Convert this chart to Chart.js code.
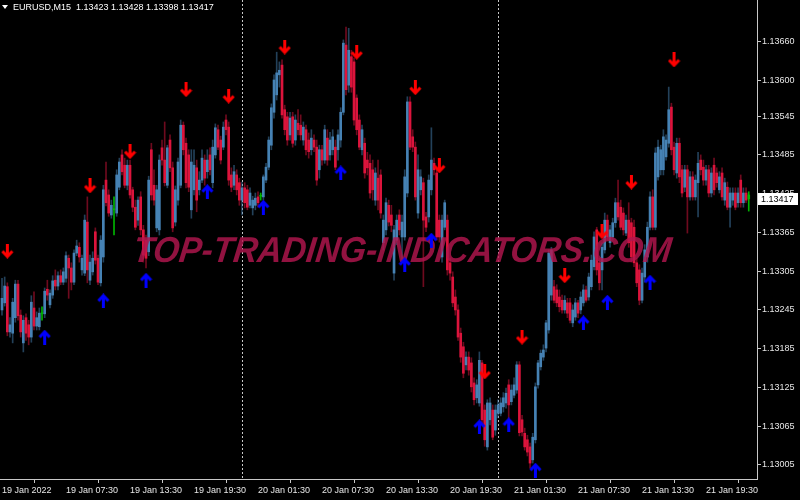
<!DOCTYPE html>
<html>
<head>
<meta charset="utf-8">
<script src="https://cdn.jsdelivr.net/npm/chart.js@4.4.1/dist/chart.umd.min.js"></script>
<style>
html,body{margin:0;padding:0;background:#000;}
#c{display:block;}
</style>
</head>
<body>
<canvas id="c" width="800" height="500" style="width:800px;height:500px"></canvas>
<script>
// ---- Data (EURUSD M15, one entry per bar, first bar = 19 Jan 01:30) ----
const symbolTitle = "EURUSD,M15";
const opens = [
1.13245,1.13256,1.13281,1.13211,1.13209,1.13233,1.13285,1.13237,1.13194,1.13233,
1.13222,1.13203,1.13248,1.13220,1.13219,1.13239,1.13239,1.13277,1.13253,1.13268,
1.13291,1.13282,1.13298,1.13288,1.13294,1.13325,1.13310,1.13288,1.13333,1.13342,
1.13307,1.13302,1.13381,1.13291,1.13304,1.13366,1.13325,1.13287,1.13327,1.13446,
1.13423,1.13392,1.13400,1.13395,1.13435,1.13485,1.13469,1.13438,1.13469,1.13431,
1.13404,1.13384,1.13420,1.13369,1.13353,1.13335,1.13493,1.13438,1.13372,1.13369,
1.13496,1.13477,1.13438,1.13508,1.13465,1.13381,1.13415,1.13438,1.13531,1.13503,
1.13485,1.13400,1.13431,1.13465,1.13431,1.13446,1.13477,1.13459,1.13485,1.13442,
1.13485,1.13524,1.13508,1.13497,1.13539,1.13528,1.13454,1.13438,1.13454,1.13442,
1.13415,1.13434,1.13431,1.13407,1.13403,1.13407,1.13420,1.13421,1.13420,1.13446,
1.13466,1.13500,1.13551,1.13578,1.13609,1.13624,1.13555,1.13544,1.13516,1.13544,
1.13508,1.13534,1.13531,1.13508,1.13524,1.13508,1.13493,1.13508,1.13497,1.13462,
1.13493,1.13477,1.13511,1.13485,1.13493,1.13497,1.13493,1.13508,1.13551,1.13655,
1.13593,1.13637,1.13629,1.13573,1.13539,1.13493,1.13503,1.13477,1.13472,1.13462,
1.13415,1.13449,1.13454,1.13349,1.13369,1.13407,1.13392,1.13302,1.13353,1.13392,
1.13358,1.13358,1.13426,1.13567,1.13513,1.13497,1.13395,1.13431,1.13442,1.13389,
1.13389,1.13431,1.13472,1.13457,1.13384,1.13327,1.13373,1.13384,1.13318,1.13296,
1.13265,1.13245,1.13209,1.13188,1.13160,1.13172,1.13163,1.13132,1.13109,1.13101,
1.13163,1.13090,1.13033,1.13075,1.13090,1.13059,1.13085,1.13085,1.13095,1.13101,
1.13129,1.13103,1.13113,1.13121,1.13160,1.13075,1.13054,1.13044,1.13033,1.13013,
1.13044,1.13129,1.13157,1.13172,1.13186,1.13214,1.13268,1.13281,1.13276,1.13265,
1.13260,1.13245,1.13256,1.13256,1.13225,1.13234,1.13256,1.13245,1.13256,1.13276,
1.13265,1.13281,1.13312,1.13369,1.13318,1.13307,1.13338,1.13384,1.13349,1.13358,
1.13380,1.13411,1.13404,1.13395,1.13364,1.13384,1.13380,1.13373,1.13318,1.13307,
1.13260,1.13296,1.13327,1.13373,1.13420,1.13373,1.13451,1.13462,1.13462,1.13482,
1.13503,1.13559,1.13497,1.13457,1.13503,1.13462,1.13435,1.13462,1.13420,1.13451,
1.13420,1.13442,1.13477,1.13466,1.13446,1.13462,1.13426,1.13469,1.13457,1.13431,
1.13457,1.13415,1.13435,1.13404,1.13415,1.13426,1.13411,1.13446,1.13411,1.13426,
1.13423];
const highs = [
1.13294,1.13296,1.13287,1.13233,1.13263,1.13291,1.13291,1.13245,1.13236,1.13239,
1.13229,1.13267,1.13273,1.13242,1.13248,1.13250,1.13279,1.13291,1.13276,1.13298,
1.13307,1.13304,1.13307,1.13310,1.13335,1.13330,1.13318,1.13338,1.13353,1.13349,
1.13330,1.13392,1.13420,1.13330,1.13335,1.13372,1.13330,1.13360,1.13438,1.13474,
1.13431,1.13415,1.13420,1.13462,1.13480,1.13493,1.13480,1.13477,1.13477,1.13435,
1.13415,1.13420,1.13428,1.13376,1.13361,1.13452,1.13503,1.13462,1.13438,1.13485,
1.13508,1.13536,1.13500,1.13516,1.13474,1.13437,1.13480,1.13539,1.13536,1.13511,
1.13493,1.13493,1.13493,1.13477,1.13459,1.13493,1.13485,1.13493,1.13496,1.13508,
1.13533,1.13531,1.13514,1.13536,1.13547,1.13536,1.13465,1.13469,1.13462,1.13449,
1.13443,1.13442,1.13438,1.13434,1.13421,1.13426,1.13428,1.13426,1.13454,1.13472,
1.13513,1.13564,1.13609,1.13644,1.13629,1.13632,1.13562,1.13551,1.13551,1.13551,
1.13547,1.13555,1.13547,1.13536,1.13531,1.13519,1.13524,1.13516,1.13508,1.13500,
1.13500,1.13531,1.13524,1.13520,1.13524,1.13508,1.13524,1.13558,1.13663,1.13683,
1.13681,1.13647,1.13635,1.13578,1.13547,1.13531,1.13511,1.13489,1.13485,1.13477,
1.13465,1.13477,1.13462,1.13392,1.13418,1.13415,1.13407,1.13376,1.13392,1.13400,
1.13392,1.13462,1.13575,1.13575,1.13524,1.13505,1.13485,1.13462,1.13449,1.13396,
1.13454,1.13527,1.13480,1.13465,1.13392,1.13392,1.13415,1.13392,1.13325,1.13304,
1.13276,1.13253,1.13217,1.13195,1.13180,1.13180,1.13171,1.13140,1.13137,1.13180,
1.13167,1.13098,1.13106,1.13109,1.13098,1.13098,1.13106,1.13109,1.13117,1.13124,
1.13137,1.13129,1.13140,1.13165,1.13165,1.13082,1.13062,1.13051,1.13039,1.13054,
1.13132,1.13167,1.13183,1.13191,1.13229,1.13338,1.13342,1.13291,1.13284,1.13276,
1.13268,1.13267,1.13263,1.13263,1.13253,1.13263,1.13260,1.13273,1.13284,1.13282,
1.13302,1.13330,1.13366,1.13373,1.13325,1.13349,1.13395,1.13392,1.13376,1.13387,
1.13418,1.13446,1.13415,1.13403,1.13392,1.13411,1.13387,1.13384,1.13325,1.13315,
1.13310,1.13346,1.13381,1.13428,1.13431,1.13496,1.13508,1.13500,1.13524,1.13516,
1.13590,1.13565,1.13505,1.13511,1.13511,1.13469,1.13469,1.13469,1.13459,1.13459,
1.13454,1.13489,1.13485,1.13477,1.13469,1.13469,1.13465,1.13480,1.13465,1.13459,
1.13465,1.13449,1.13443,1.13434,1.13434,1.13434,1.13434,1.13454,1.13434,1.13434,
1.13428];
const lows = [
1.13237,1.13251,1.13205,1.13203,1.13194,1.13226,1.13229,1.13203,1.13180,1.13198,
1.13191,1.13195,1.13214,1.13214,1.13214,1.13229,1.13233,1.13260,1.13248,1.13263,
1.13276,1.13276,1.13284,1.13284,1.13288,1.13263,1.13276,1.13284,1.13329,1.13319,
1.13299,1.13298,1.13287,1.13284,1.13299,1.13316,1.13284,1.13282,1.13319,1.13406,
1.13390,1.13387,1.13361,1.13390,1.13431,1.13454,1.13434,1.13431,1.13418,1.13397,
1.13369,1.13376,1.13361,1.13319,1.13310,1.13329,1.13415,1.13407,1.13366,1.13361,
1.13469,1.13437,1.13434,1.13459,1.13366,1.13375,1.13407,1.13434,1.13485,1.13434,
1.13428,1.13387,1.13423,1.13397,1.13423,1.13442,1.13438,1.13449,1.13454,1.13434,
1.13480,1.13493,1.13471,1.13493,1.13516,1.13438,1.13428,1.13431,1.13423,1.13407,
1.13392,1.13403,1.13400,1.13403,1.13392,1.13400,1.13404,1.13415,1.13415,1.13442,
1.13462,1.13493,1.13542,1.13570,1.13590,1.13542,1.13516,1.13500,1.13508,1.13497,
1.13500,1.13516,1.13508,1.13500,1.13485,1.13480,1.13485,1.13490,1.13438,1.13449,
1.13469,1.13472,1.13469,1.13477,1.13485,1.13462,1.13477,1.13497,1.13547,1.13578,
1.13582,1.13582,1.13531,1.13516,1.13493,1.13485,1.13449,1.13454,1.13418,1.13415,
1.13407,1.13400,1.13387,1.13338,1.13361,1.13375,1.13366,1.13291,1.13346,1.13361,
1.13319,1.13353,1.13420,1.13493,1.13490,1.13415,1.13387,1.13423,1.13281,1.13366,
1.13381,1.13423,1.13454,1.13353,1.13350,1.13319,1.13369,1.13299,1.13291,1.13250,
1.13237,1.13198,1.13164,1.13140,1.13152,1.13144,1.13118,1.13098,1.13101,1.13096,
1.13067,1.13034,1.13028,1.13067,1.13044,1.13051,1.13078,1.13081,1.13087,1.13093,
1.13075,1.13098,1.13109,1.13116,1.13050,1.13050,1.13028,1.13019,1.13000,1.13008,
1.13039,1.13124,1.13152,1.13167,1.13180,1.13209,1.13260,1.13256,1.13250,1.13242,
1.13240,1.13240,1.13233,1.13225,1.13219,1.13229,1.13233,1.13239,1.13251,1.13257,
1.13260,1.13276,1.13307,1.13299,1.13276,1.13276,1.13333,1.13353,1.13342,1.13353,
1.13373,1.13384,1.13369,1.13361,1.13360,1.13342,1.13319,1.13312,1.13281,1.13253,
1.13256,1.13288,1.13319,1.13369,1.13369,1.13369,1.13446,1.13454,1.13454,1.13477,
1.13497,1.13485,1.13454,1.13449,1.13442,1.13420,1.13428,1.13364,1.13415,1.13415,
1.13415,1.13389,1.13454,1.13438,1.13438,1.13420,1.13420,1.13423,1.13435,1.13426,
1.13415,1.13407,1.13400,1.13373,1.13407,1.13400,1.13404,1.13404,1.13404,1.13411,
1.13398];
const closes = [
1.13263,1.13282,1.13211,1.13222,1.13257,1.13285,1.13236,1.13211,1.13229,1.13209,
1.13203,1.13257,1.13220,1.13233,1.13240,1.13239,1.13274,1.13268,1.13271,1.13290,
1.13282,1.13298,1.13288,1.13304,1.13329,1.13310,1.13288,1.13333,1.13344,1.13327,
1.13325,1.13384,1.13307,1.13319,1.13325,1.13322,1.13288,1.13353,1.13431,1.13411,
1.13395,1.13407,1.13400,1.13454,1.13474,1.13459,1.13438,1.13469,1.13423,1.13404,
1.13373,1.13415,1.13369,1.13330,1.13325,1.13446,1.13423,1.13415,1.13431,1.13477,
1.13477,1.13442,1.13496,1.13465,1.13372,1.13431,1.13474,1.13531,1.13493,1.13442,
1.13435,1.13474,1.13469,1.13415,1.13446,1.13480,1.13449,1.13477,1.13462,1.13497,
1.13527,1.13497,1.13477,1.13528,1.13524,1.13446,1.13435,1.13459,1.13431,1.13415,
1.13434,1.13411,1.13404,1.13426,1.13415,1.13418,1.13411,1.13421,1.13451,1.13466,
1.13508,1.13558,1.13601,1.13612,1.13616,1.13547,1.13524,1.13508,1.13542,1.13503,
1.13539,1.13524,1.13516,1.13528,1.13493,1.13490,1.13511,1.13497,1.13446,1.13493,
1.13477,1.13524,1.13477,1.13508,1.13513,1.13466,1.13516,1.13551,1.13658,1.13586,
1.13647,1.13590,1.13539,1.13524,1.13497,1.13524,1.13457,1.13465,1.13426,1.13431,
1.13457,1.13415,1.13395,1.13384,1.13411,1.13381,1.13376,1.13369,1.13384,1.13369,
1.13381,1.13451,1.13567,1.13497,1.13497,1.13420,1.13462,1.13451,1.13384,1.13373,
1.13446,1.13477,1.13462,1.13358,1.13358,1.13384,1.13411,1.13307,1.13302,1.13256,
1.13245,1.13203,1.13172,1.13147,1.13172,1.13152,1.13126,1.13106,1.13129,1.13167,
1.13075,1.13044,1.13101,1.13101,1.13048,1.13090,1.13098,1.13101,1.13109,1.13116,
1.13098,1.13121,1.13129,1.13160,1.13055,1.13056,1.13033,1.13025,1.13008,1.13048,
1.13126,1.13163,1.13178,1.13183,1.13225,1.13333,1.13338,1.13260,1.13256,1.13250,
1.13245,1.13260,1.13240,1.13229,1.13245,1.13256,1.13240,1.13265,1.13276,1.13260,
1.13296,1.13322,1.13358,1.13307,1.13287,1.13342,1.13384,1.13358,1.13369,1.13380,
1.13411,1.13389,1.13373,1.13369,1.13384,1.13349,1.13327,1.13318,1.13287,1.13260,
1.13302,1.13338,1.13373,1.13420,1.13373,1.13488,1.13497,1.13493,1.13513,1.13508,
1.13555,1.13493,1.13462,1.13503,1.13451,1.13426,1.13462,1.13420,1.13451,1.13420,
1.13446,1.13472,1.13462,1.13446,1.13462,1.13426,1.13457,1.13431,1.13442,1.13451,
1.13420,1.13442,1.13404,1.13426,1.13426,1.13404,1.13426,1.13411,1.13426,1.13415,
1.13417];

// Indicator signals: bar index and price where the arrow is drawn
const sellArrowIdx   = [2, 33, 48, 69, 85, 106, 133, 155, 164, 181, 195, 211, 225, 236, 252];
const sellArrowPrice = [1.13336,1.13437,1.13490,1.13586,1.13576,1.13652,1.13644,1.13589,1.13468,1.13149,1.13203,1.13298,1.13366,1.13443,1.13632];
const buyArrowIdx    = [16, 38, 54, 77, 98, 127, 151, 161, 179, 190, 200, 218, 227, 243];
const buyArrowPrice  = [1.13203,1.13259,1.13291,1.13428,1.13404,1.13457,1.13315,1.13353,1.13064,1.13067,1.12997,1.13225,1.13257,1.13288];

// Axis labels
const timeTickIdx = [0, 24, 48, 72, 96, 120, 144, 168, 192, 216, 240, 264];
const timeLabels  = ["19 Jan 2022","19 Jan 07:30","19 Jan 13:30","19 Jan 19:30","20 Jan 01:30","20 Jan 07:30",
                     "20 Jan 13:30","20 Jan 19:30","21 Jan 01:30","21 Jan 07:30","21 Jan 13:30","21 Jan 19:30"];
const priceTicks  = [1.13005,1.13065,1.13125,1.13185,1.13245,1.13305,1.13365,1.13425,1.13485,1.13545,1.13600,1.13660];
const daySeparatorIdx = [90, 186];
const watermarkText = "TOP-TRADING-INDICATORS.COM";

// ---- Build ----
const N = closes.length;
const lastIdx = N - 1;
const kind = closes.map((c, i) => (i === lastIdx || c === opens[i]) ? 'doji' : (c > opens[i] ? 'up' : 'down'));
const bodyCol = {up: '#4682B4', down: '#DC143C', doji: '#00B400'};
const wickCol = {up: 'rgba(70,130,180,0.5)', down: 'rgba(220,20,60,0.5)', doji: '#00B400'};

const wickData = closes.map((c, i) => ({x: i, y: [lows[i], highs[i]]}));
const bodyData = closes.map((c, i) => ({x: i, y: [opens[i], closes[i]]}));

function makeArrow(color, down) {
  const cv = document.createElement('canvas');
  cv.width = 13; cv.height = 15;
  const g = cv.getContext('2d');
  g.strokeStyle = color; g.lineWidth = 3; g.lineCap = 'butt'; g.lineJoin = 'miter';
  g.save();
  if (!down) { g.translate(0, 15); g.scale(1, -1); }
  g.beginPath(); g.moveTo(6.5, 0); g.lineTo(6.5, 12.5); g.stroke();
  g.beginPath(); g.moveTo(1.5, 7.5); g.lineTo(6.5, 12.8); g.lineTo(11.5, 7.5); g.stroke();
  g.restore();
  return cv;
}
const redArrow = makeArrow('#FF0000', true);
const blueArrow = makeArrow('#0000FF', false);

const FONT = 'Liberation Sans';
const TEXT = '#E6E6E6';

const bgPlugin = {
  id: 'bg',
  beforeDraw(chart) {
    const c = chart.ctx; c.save(); c.fillStyle = '#000'; c.fillRect(0, 0, chart.width, chart.height); c.restore();
  },
  beforeDatasetsDraw(chart) {
    const c = chart.ctx, xs = chart.scales.x, a = chart.chartArea;
    c.save(); c.strokeStyle = '#C8C8C8'; c.lineWidth = 1; c.setLineDash([2, 2]);
    daySeparatorIdx.forEach(i => {
      const x = Math.round(xs.getPixelForValue(i)) + 0.5;
      c.beginPath(); c.moveTo(x, 0); c.lineTo(x, a.bottom); c.stroke();
    });
    c.restore();
  },
  afterDatasetDraw(chart, args) {
    if (args.index !== 1) return;
    const c = chart.ctx;
    c.save();
    c.font = 'italic bold 36px ' + FONT;
    const w = c.measureText(watermarkText).width;
    const left = 132, right = 670, base = 262;
    c.translate(left, base); c.transform(1, 0, -0.12, 1, 0, 0); c.scale((right - left) / w, 1);
    c.fillStyle = 'rgba(178,22,78,0.82)';
    c.textBaseline = 'alphabetic';
    c.fillText(watermarkText, 0, 0);
    c.restore();
  },
  afterDraw(chart) {
    const c = chart.ctx, ys = chart.scales.y, a = chart.chartArea;
    c.save();
    // header
    c.fillStyle = '#FFFFFF';
    c.beginPath(); c.moveTo(2, 5); c.lineTo(8, 5); c.lineTo(5, 9); c.closePath(); c.fill();
    c.font = '9px ' + FONT; c.textBaseline = 'middle'; c.fillStyle = '#FFFFFF';
    const hdr = symbolTitle + '  ' + [opens[lastIdx], highs[lastIdx], lows[lastIdx], closes[lastIdx]].map(v => v.toFixed(5)).join(' ');
    c.fillText(hdr, 13, 8);
    // current price box
    const y = Math.round(ys.getPixelForValue(closes[lastIdx]));
    c.fillStyle = '#FFFFFF'; c.fillRect(a.right + 1, y - 6, 40, 12);
    c.fillStyle = '#000000'; c.fillText(closes[lastIdx].toFixed(5), a.right + 4, y + 0.5);
    c.restore();
  }
};

new Chart(document.getElementById('c'), {
  type: 'bar',
  data: {
    datasets: [
      {type: 'scatter', data: sellArrowIdx.map((x, k) => ({x, y: sellArrowPrice[k]})), pointStyle: redArrow, order: 0, clip: false},
      {type: 'bar', data: bodyData, backgroundColor: kind.map(k => bodyCol[k]), barThickness: 2, minBarLength: 1, grouped: false, order: 1},
      {type: 'bar', data: wickData, backgroundColor: kind.map(k => wickCol[k]), barThickness: 1, grouped: false, order: 2},
      {type: 'scatter', data: buyArrowIdx.map((x, k) => ({x, y: buyArrowPrice[k]})), pointStyle: blueArrow, order: 0, clip: false}
    ]
  },
  options: {
    responsive: false, animation: false, events: [],
    layout: {padding: 0, autoPadding: false},
    plugins: {legend: {display: false}, tooltip: {enabled: false}},
    scales: {
      x: {
        type: 'linear', min: -0.75, max: 283.1, offset: false,
        grid: {display: true, drawOnChartArea: false, drawTicks: true, tickLength: 4, color: '#C8C8C8'},
        border: {display: true, color: '#C8C8C8'},
        afterBuildTicks: s => { s.ticks = timeTickIdx.map(v => ({value: v})); },
        ticks: {autoSkip: false, maxRotation: 0, align: 'start', padding: 2, color: TEXT,
                font: {family: FONT, size: 9},
                callback: v => timeLabels[timeTickIdx.indexOf(v)]},
        afterFit: s => { s.height = 21; s.paddingLeft = 0; s.paddingRight = 0; }
      },
      y: {
        position: 'right', min: 1.129833, max: 1.137248,
        grid: {display: true, drawOnChartArea: false, drawTicks: true, tickLength: 4, color: '#C8C8C8'},
        border: {display: true, color: '#C8C8C8'},
        afterBuildTicks: s => { s.ticks = priceTicks.map(v => ({value: v})); },
        ticks: {autoSkip: false, padding: 1, color: TEXT, font: {family: FONT, size: 9},
                callback: v => v.toFixed(5)},
        afterFit: s => { s.width = 43; s.paddingTop = 0; s.paddingBottom = 0; }
      }
    }
  },
  plugins: [bgPlugin]
});
</script>
</body>
</html>
